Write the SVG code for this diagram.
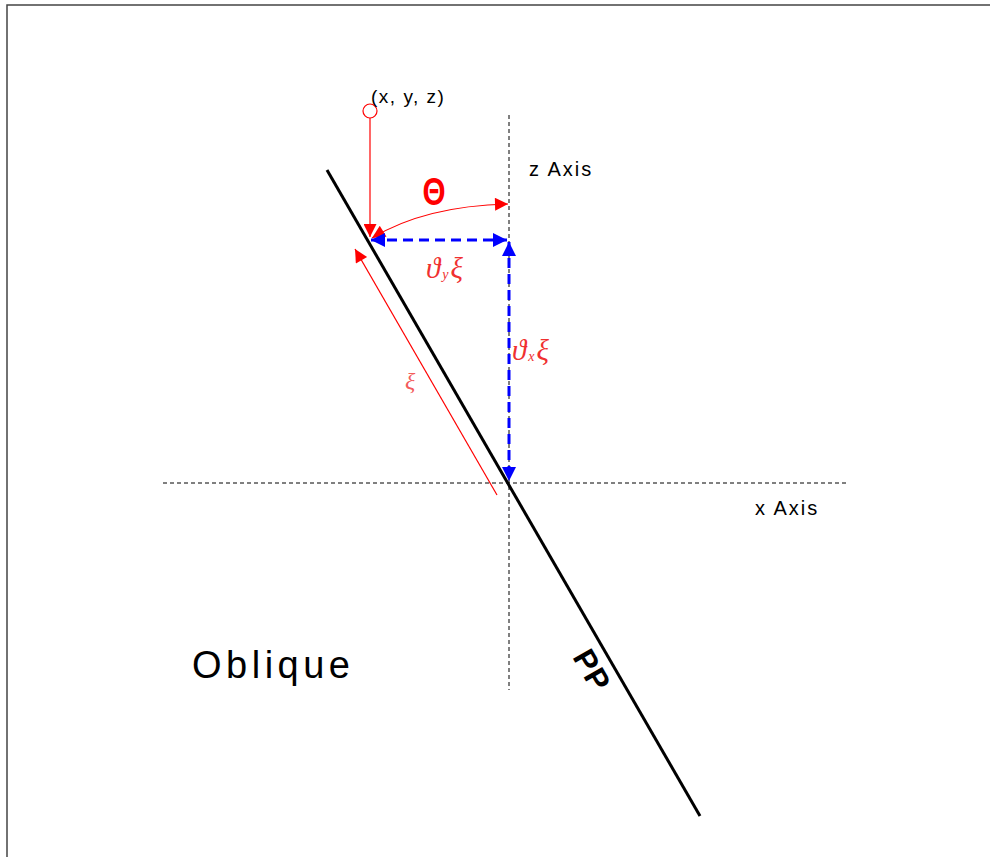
<svg xmlns="http://www.w3.org/2000/svg" width="990" height="857" viewBox="0 0 990 857">
<style>
.lbl{font-family:"Liberation Sans",Arial,sans-serif;fill:#000}
.math{font-family:"Liberation Serif","DejaVu Serif",serif;font-style:italic;fill:#f03030}
.axis{stroke:#000;stroke-width:1;stroke-dasharray:4,3;fill:none}
.red{stroke:#ff0000;stroke-width:1.2;fill:none}
.blue{stroke:#0000ff;stroke-width:3;stroke-dasharray:10,6;fill:none}
</style>
<defs>
<marker id="arL" viewBox="0 0 10 10" refX="10" refY="5" markerWidth="20" markerHeight="13" markerUnits="userSpaceOnUse" orient="auto-start-reverse"><path d="M0,0 L10,5 L0,10 z" fill="#ff0000"/></marker>
<marker id="ab" viewBox="0 0 10 10" refX="10" refY="5" markerWidth="18" markerHeight="14" markerUnits="userSpaceOnUse" orient="auto-start-reverse"><path d="M0,0 L10,5 L0,10 z" fill="#0000ff"/></marker>
</defs>
<rect x="7" y="5" width="1000" height="900" fill="#fff" stroke="#444" stroke-width="1.5"/>
<g id="axes">
<line class="axis" x1="163" y1="483" x2="847" y2="483"/>
<line class="axis" x1="509" y1="115" x2="509" y2="690"/>
</g>
<g id="pp-line">
<line x1="327" y1="170" x2="700" y2="816" stroke="#000" stroke-width="3"/>
</g>
<g id="connectors">
<circle cx="370" cy="111" r="7" fill="none" stroke="#ff0000" stroke-width="1.2"/>
<line class="red" x1="370" y1="118" x2="370" y2="237" marker-end="url(#arL)"/>
<path class="red" d="M372,238 Q425,206 508,204" marker-start="url(#arL)" marker-end="url(#arL)"/>
<line class="red" x1="497" y1="495" x2="355" y2="249" marker-end="url(#arL)"/>
<line class="blue" x1="371" y1="240" x2="507" y2="240" marker-start="url(#ab)" marker-end="url(#ab)"/>
<line class="blue" x1="509" y1="242" x2="509" y2="481" marker-start="url(#ab)" marker-end="url(#ab)"/>
</g>
<g id="labels">
<text class="lbl" x="371" y="103" font-size="19" letter-spacing="1.5">(x, y, z)</text>
<text class="lbl" x="529" y="176" font-size="20" letter-spacing="2">z Axis</text>
<text class="lbl" x="755" y="515" font-size="20" letter-spacing="2">x Axis</text>
<text class="lbl" x="192" y="678" font-size="38" letter-spacing="4.5">Oblique</text>
<text class="lbl" x="0" y="0" font-size="31" font-weight="bold" letter-spacing="1" transform="translate(572,657) rotate(60)">PP</text>
<text x="0" y="0" font-family="Liberation Sans,Arial,sans-serif" font-size="38" font-weight="bold" fill="#ff0000" text-anchor="middle" transform="translate(434,205) scale(0.78,1)">Θ</text>
<text class="math" x="426" y="278" font-size="29" letter-spacing="2">ϑ<tspan font-size="14" dy="1">y</tspan><tspan dy="-1">ξ</tspan></text>
<text class="math" x="512" y="360" font-size="29" letter-spacing="2">ϑ<tspan font-size="14" dy="1">x</tspan><tspan dy="-1">ξ</tspan></text>
<text class="math" x="405" y="389" font-size="24" fill-opacity="0.8">ξ</text>
</g>
</svg>
